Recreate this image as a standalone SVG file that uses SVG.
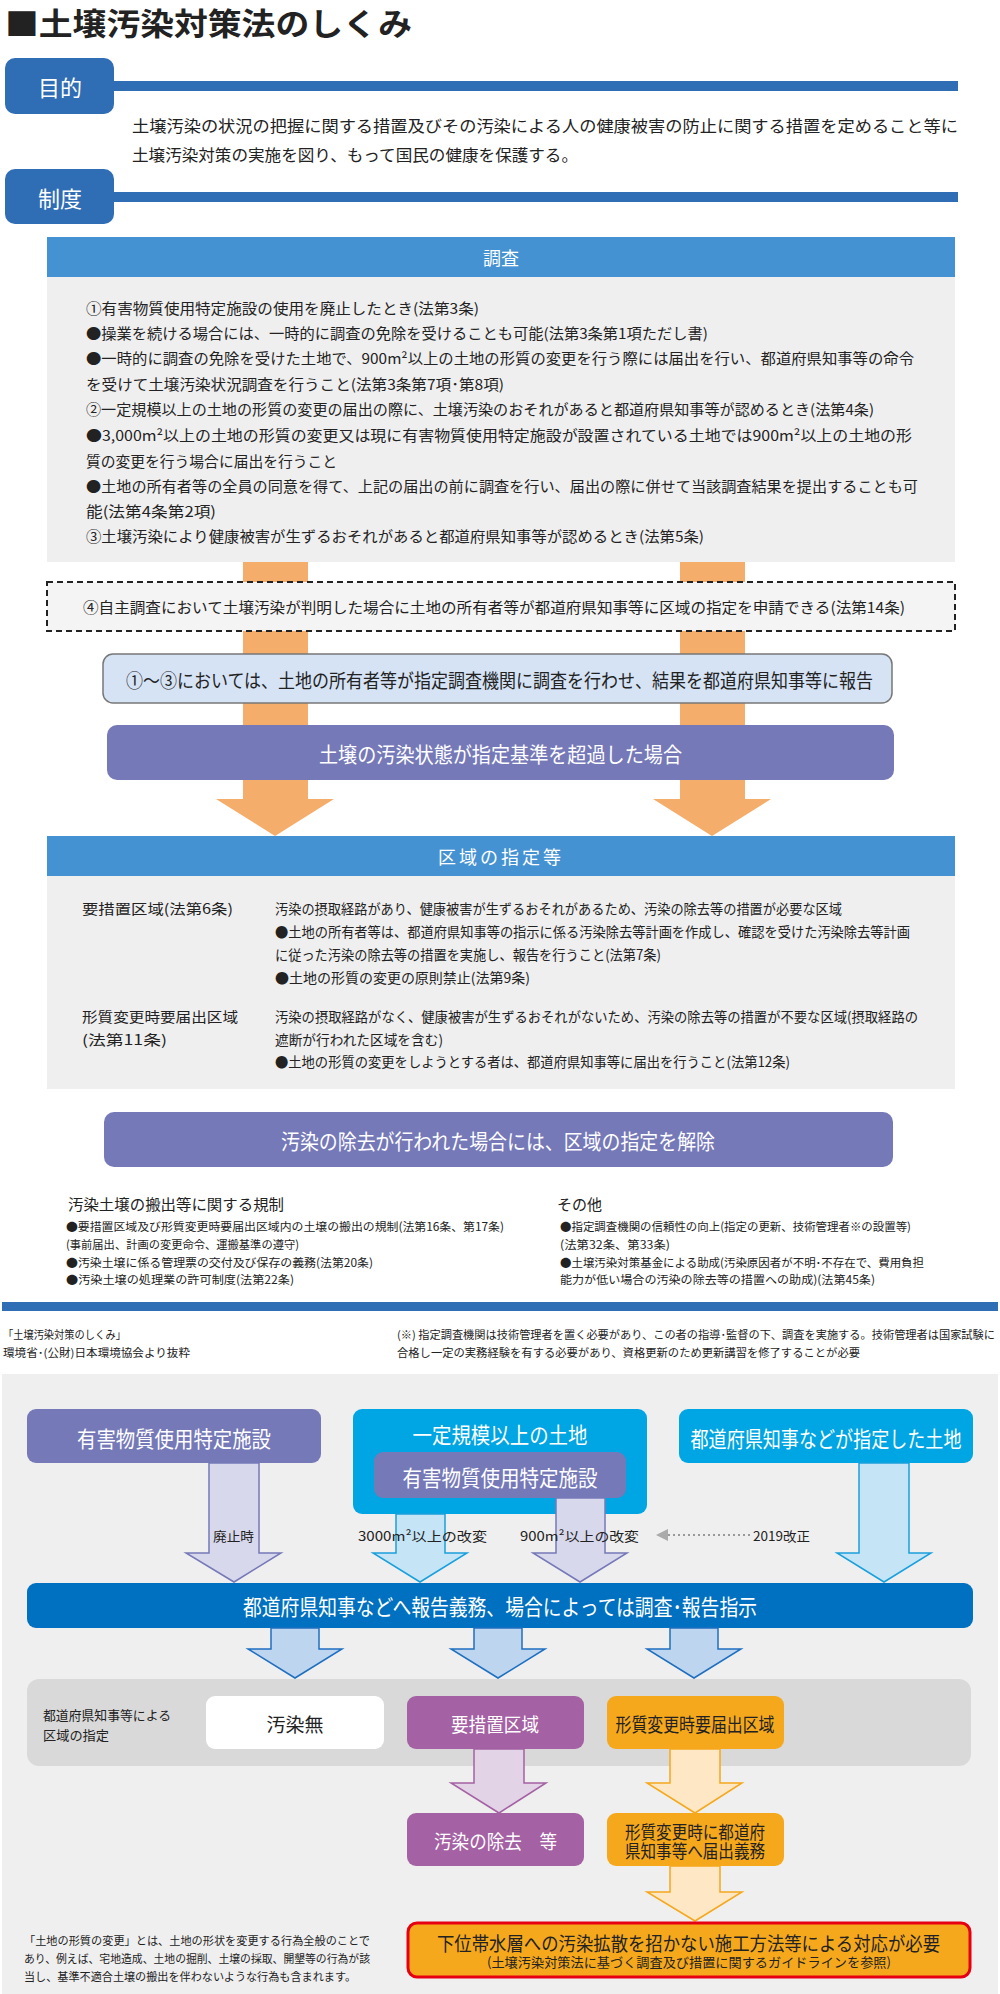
<svg xmlns="http://www.w3.org/2000/svg" width="1000" height="1994" viewBox="0 0 1000 1994">
<style>
text{font-family:"Noto Sans CJK JP","Noto Sans",sans-serif;dominant-baseline:central}
.k{fill:#222}
.w{fill:#fff}
.c{text-anchor:middle}
.tab{fill:#2f6db5}
.hdr{fill:#4592d3}
.gr{fill:#efefef}
.pu{fill:#7679b8}
.or{fill:#f5ad6b}
</style>
<rect width="1000" height="1994" fill="#fff"/>
<g id="title"><text x="5" y="21" font-size="31" font-weight="bold" class="k" textLength="407" lengthAdjust="spacingAndGlyphs">■土壌汚染対策法のしくみ</text></g>

<g id="purpose">
<rect x="5" y="58" width="109" height="56" rx="10" class="tab"/>
<rect x="110" y="81" width="848" height="10" class="tab"/>
<text x="60" y="86" font-size="22" class="w c">目的</text>
<text x="132" y="125" font-size="16" class="k" textLength="826" lengthAdjust="spacingAndGlyphs">土壌汚染の状況の把握に関する措置及びその汚染による人の健康被害の防止に関する措置を定めること等に</text>
<text x="132" y="154" font-size="16" class="k" textLength="446" lengthAdjust="spacingAndGlyphs">土壌汚染対策の実施を図り、もって国民の健康を保護する。</text>
</g>
<g id="system">
<rect x="5" y="169" width="109" height="55" rx="10" class="tab"/>
<rect x="110" y="192" width="848" height="10" class="tab"/>
<text x="60" y="197" font-size="22" class="w c">制度</text>
</g>

<g id="connectors">
<rect x="243" y="560" width="65" height="240" class="or"/>
<rect x="680" y="560" width="65" height="240" class="or"/>
<polygon points="216,799 334,799 275,836" class="or"/>
<polygon points="653,799 771,799 712,836" class="or"/>
</g>

<g id="survey">
<rect x="47" y="237" width="908" height="40" class="hdr"/>
<text x="501" y="257" font-size="18" class="w c">調査</text>
<rect x="47" y="277" width="908" height="285" class="gr"/>
<g font-size="14.5" class="k">
<text x="86" y="307" textLength="393" lengthAdjust="spacingAndGlyphs">①有害物質使用特定施設の使用を廃止したとき(法第3条)</text>
<text x="86" y="332" textLength="622" lengthAdjust="spacingAndGlyphs">●操業を続ける場合には、一時的に調査の免除を受けることも可能(法第3条第1項ただし書)</text>
<text x="86" y="357" textLength="828" lengthAdjust="spacingAndGlyphs">●一時的に調査の免除を受けた土地で、900m²以上の土地の形質の変更を行う際には届出を行い、都道府県知事等の命令</text>
<text x="86" y="383" textLength="418" lengthAdjust="spacingAndGlyphs">を受けて土壌汚染状況調査を行うこと(法第3条第7項･第8項)</text>
<text x="86" y="408" textLength="788" lengthAdjust="spacingAndGlyphs">②一定規模以上の土地の形質の変更の届出の際に、土壌汚染のおそれがあると都道府県知事等が認めるとき(法第4条)</text>
<text x="86" y="434" textLength="826" lengthAdjust="spacingAndGlyphs">●3,000m²以上の土地の形質の変更又は現に有害物質使用特定施設が設置されている土地では900m²以上の土地の形</text>
<text x="86" y="460" textLength="251" lengthAdjust="spacingAndGlyphs">質の変更を行う場合に届出を行うこと</text>
<text x="86" y="485" textLength="832" lengthAdjust="spacingAndGlyphs">●土地の所有者等の全員の同意を得て、上記の届出の前に調査を行い、届出の際に併せて当該調査結果を提出することも可</text>
<text x="86" y="510" textLength="130" lengthAdjust="spacingAndGlyphs">能(法第4条第2項)</text>
<text x="86" y="535" textLength="618" lengthAdjust="spacingAndGlyphs">③土壌汚染により健康被害が生ずるおそれがあると都道府県知事等が認めるとき(法第5条)</text>
</g>
</g>

<g id="self-survey">
<rect x="47" y="582" width="908" height="49" fill="#f4f4f4" stroke="#222" stroke-width="2" stroke-dasharray="6,4"/>
<text x="83" y="606" font-size="15" class="k" textLength="822" lengthAdjust="spacingAndGlyphs">④自主調査において土壌汚染が判明した場合に土地の所有者等が都道府県知事等に区域の指定を申請できる(法第14条)</text>
</g>
<g id="report">
<rect x="103" y="654" width="789" height="49" rx="10" fill="#d5e3f5" stroke="#777" stroke-width="1.5"/>
<text x="126" y="679" font-size="19" class="k" textLength="747" lengthAdjust="spacingAndGlyphs">①～③においては、土地の所有者等が指定調査機関に調査を行わせ、結果を都道府県知事等に報告</text>
</g>
<g id="exceed">
<rect x="107" y="725" width="787" height="55" rx="10" class="pu"/>
<text x="319" y="753" font-size="21" class="w" textLength="363" lengthAdjust="spacingAndGlyphs">土壌の汚染状態が指定基準を超過した場合</text>
</g>

<g id="designation">
<rect x="47" y="836" width="908" height="40" class="hdr"/>
<text x="501" y="856" font-size="18" class="w c" letter-spacing="3">区域の指定等</text>
<rect x="47" y="876" width="908" height="213" class="gr"/>
<g font-size="14" class="k">
<text x="82" y="908" textLength="151" lengthAdjust="spacingAndGlyphs">要措置区域(法第6条)</text>
<text x="275" y="908" textLength="567" lengthAdjust="spacingAndGlyphs">汚染の摂取経路があり、健康被害が生ずるおそれがあるため、汚染の除去等の措置が必要な区域</text>
<text x="275" y="931" textLength="635" lengthAdjust="spacingAndGlyphs">●土地の所有者等は、都道府県知事等の指示に係る汚染除去等計画を作成し、確認を受けた汚染除去等計画</text>
<text x="275" y="954" textLength="386" lengthAdjust="spacingAndGlyphs">に従った汚染の除去等の措置を実施し、報告を行うこと(法第7条)</text>
<text x="275" y="977" textLength="255" lengthAdjust="spacingAndGlyphs">●土地の形質の変更の原則禁止(法第9条)</text>
<text x="82" y="1016" textLength="156" lengthAdjust="spacingAndGlyphs">形質変更時要届出区域</text>
<text x="82" y="1039" textLength="85" lengthAdjust="spacingAndGlyphs">(法第11条)</text>
<text x="275" y="1016" textLength="643" lengthAdjust="spacingAndGlyphs">汚染の摂取経路がなく、健康被害が生ずるおそれがないため、汚染の除去等の措置が不要な区域(摂取経路の</text>
<text x="275" y="1039" textLength="168" lengthAdjust="spacingAndGlyphs">遮断が行われた区域を含む)</text>
<text x="275" y="1061" textLength="515" lengthAdjust="spacingAndGlyphs">●土地の形質の変更をしようとする者は、都道府県知事等に届出を行うこと(法第12条)</text>
</g>
</g>

<g id="release">
<rect x="104" y="1112" width="789" height="55" rx="10" class="pu"/>
<text x="281" y="1140" font-size="21" class="w" textLength="434" lengthAdjust="spacingAndGlyphs">汚染の除去が行われた場合には、区域の指定を解除</text>
</g>

<g id="others">
<text x="68" y="1203" font-size="15" class="k" textLength="216" lengthAdjust="spacingAndGlyphs">汚染土壌の搬出等に関する規制</text>
<g font-size="11.5" class="k">
<text x="66" y="1226" textLength="438" lengthAdjust="spacingAndGlyphs">●要措置区域及び形質変更時要届出区域内の土壌の搬出の規制(法第16条、第17条)</text>
<text x="66" y="1244" textLength="233" lengthAdjust="spacingAndGlyphs">(事前届出、計画の変更命令、運搬基準の遵守)</text>
<text x="66" y="1262" textLength="307" lengthAdjust="spacingAndGlyphs">●汚染土壌に係る管理票の交付及び保存の義務(法第20条)</text>
<text x="66" y="1279" textLength="228" lengthAdjust="spacingAndGlyphs">●汚染土壌の処理業の許可制度(法第22条)</text>
</g>
<text x="557" y="1203" font-size="15" class="k" textLength="45" lengthAdjust="spacingAndGlyphs">その他</text>
<g font-size="11.5" class="k">
<text x="560" y="1226" textLength="351" lengthAdjust="spacingAndGlyphs">●指定調査機関の信頼性の向上(指定の更新、技術管理者※の設置等)</text>
<text x="560" y="1244" textLength="110" lengthAdjust="spacingAndGlyphs">(法第32条、第33条)</text>
<text x="560" y="1262" textLength="364" lengthAdjust="spacingAndGlyphs">●土壌汚染対策基金による助成(汚染原因者が不明･不存在で、費用負担</text>
<text x="560" y="1279" textLength="315" lengthAdjust="spacingAndGlyphs">能力が低い場合の汚染の除去等の措置への助成)(法第45条)</text>
</g>
</g>

<g id="source">
<rect x="2" y="1302" width="996" height="9" class="tab"/>
<g font-size="11" class="k">
<text x="3" y="1334" textLength="123" lengthAdjust="spacingAndGlyphs">「土壌汚染対策のしくみ」</text>
<text x="3" y="1352" textLength="187" lengthAdjust="spacingAndGlyphs">環境省･(公財)日本環境協会より抜粋</text>
<text x="397" y="1334" textLength="598" lengthAdjust="spacingAndGlyphs">(※) 指定調査機関は技術管理者を置く必要があり、この者の指導･監督の下、調査を実施する。技術管理者は国家試験に</text>
<text x="397" y="1352" textLength="463" lengthAdjust="spacingAndGlyphs">合格し一定の実務経験を有する必要があり、資格更新のため更新講習を修了することが必要</text>
</g>
</g>

<rect x="2" y="1374" width="996" height="620" class="gr"/>

<g id="n-facility">
<rect x="27" y="1409" width="294" height="54" rx="9" class="pu"/>
<text x="174" y="1437" font-size="22" class="w c" textLength="194" lengthAdjust="spacingAndGlyphs">有害物質使用特定施設</text>
</g>
<g id="n-large">
<rect x="353" y="1409" width="294" height="105" rx="9" fill="#00a5e3"/>
<text x="500" y="1433" font-size="22" class="w c" textLength="175" lengthAdjust="spacingAndGlyphs">一定規模以上の土地</text>
<rect x="374" y="1452" width="252" height="46" rx="9" class="pu"/>
<text x="500" y="1476" font-size="22" class="w c" textLength="195" lengthAdjust="spacingAndGlyphs">有害物質使用特定施設</text>
</g>
<g id="n-designated">
<rect x="679" y="1409" width="294" height="54" rx="9" fill="#00a5e3"/>
<text x="826" y="1437" font-size="22" class="w c" textLength="271" lengthAdjust="spacingAndGlyphs">都道府県知事などが指定した土地</text>
</g>

<g id="flow-arrows">
<g fill="#d8d8ec" stroke="#7679b8" stroke-width="1.5">
<polygon points="209,1463 259,1463 259,1553 281,1553 234,1582 186,1553 209,1553"/>
<polygon points="556,1498 605,1498 605,1553 627,1553 580,1582 533,1553 556,1553"/>
</g>
<g fill="#c5e5f7" stroke="#1aa0dc" stroke-width="1.5">
<polygon points="396,1514 445,1514 445,1553 467,1553 420,1582 373,1553 396,1553"/>
<polygon points="859,1463 909,1463 909,1553 931,1553 884,1582 837,1553 859,1553"/>
</g>
<line x1="750" y1="1535" x2="664" y2="1535" stroke="#999" stroke-width="2" stroke-dasharray="2,3"/>
<polygon points="656,1535 668,1529 668,1541" fill="#aaa"/>
<g font-size="13" class="k">
<text x="213" y="1535" textLength="41" lengthAdjust="spacingAndGlyphs">廃止時</text>
<text x="358" y="1535" textLength="129" lengthAdjust="spacingAndGlyphs">3000m²以上の改変</text>
<text x="520" y="1535" textLength="119" lengthAdjust="spacingAndGlyphs">900m²以上の改変</text>
<text x="753" y="1535" textLength="57" lengthAdjust="spacingAndGlyphs">2019改正</text>
</g>
</g>

<g id="n-report">
<rect x="27" y="1583" width="946" height="45" rx="9" fill="#0070c0"/>
<text x="243" y="1605" font-size="22" class="w" textLength="514" lengthAdjust="spacingAndGlyphs">都道府県知事などへ報告義務、場合によっては調査･報告指示</text>
</g>
<g id="connectors-lower">
<g fill="#bdd5ee" stroke="#1f6fc0" stroke-width="1.5">
<polygon points="271,1628 319,1628 319,1649 342,1649 295,1678 248,1649 271,1649"/>
<polygon points="474,1628 522,1628 522,1649 545,1649 498,1678 451,1649 474,1649"/>
<polygon points="670,1628 718,1628 718,1649 741,1649 694,1678 647,1649 670,1649"/>
</g>
</g>

<g id="n-zone-panel">
<rect x="27" y="1679" width="944" height="87" rx="12" fill="#d9d9d9"/>
<text x="43" y="1714" font-size="13" class="k" textLength="128" lengthAdjust="spacingAndGlyphs">都道府県知事等による</text>
<text x="43" y="1734" font-size="13" class="k" textLength="66" lengthAdjust="spacingAndGlyphs">区域の指定</text>
</g>
<g id="n-none">
<rect x="206" y="1696" width="178" height="53" rx="9" fill="#fff"/>
<text x="295" y="1723" font-size="19" class="k c">汚染無</text>
</g>
<g id="n-action">
<rect x="407" y="1696" width="177" height="53" rx="9" fill="#a461a3"/>
<text x="495" y="1723" font-size="19" class="w c" textLength="88" lengthAdjust="spacingAndGlyphs">要措置区域</text>
</g>
<g id="n-notice">
<rect x="607" y="1696" width="177" height="53" rx="9" fill="#f5a81c"/>
<text x="695" y="1723" font-size="19" class="k c" textLength="159" lengthAdjust="spacingAndGlyphs">形質変更時要届出区域</text>
</g>

<g id="connectors-bottom">
<polygon points="474,1749 524,1749 524,1783 546,1783 499,1813 451,1783 474,1783" fill="#e2d3e7" stroke="#a461a3" stroke-width="1.5"/>
<polygon points="670,1749 720,1749 720,1783 742,1783 695,1813 647,1783 670,1783" fill="#fde7c4" stroke="#f5a81c" stroke-width="1.5"/>
<polygon points="670,1866 720,1866 720,1892 742,1892 695,1921 647,1892 670,1892" fill="#fde7c4" stroke="#f5a81c" stroke-width="1.5"/>
</g>

<g id="n-remove">
<rect x="407" y="1813" width="177" height="53" rx="9" fill="#a461a3"/>
<text x="434" y="1840" font-size="19" class="w" textLength="123" lengthAdjust="spacingAndGlyphs">汚染の除去　等</text>
</g>
<g id="n-notify">
<rect x="607" y="1813" width="177" height="53" rx="9" fill="#f5a81c"/>
<text x="695" y="1831" font-size="18" class="k c" textLength="140" lengthAdjust="spacingAndGlyphs">形質変更時に都道府</text>
<text x="695" y="1850" font-size="18" class="k c" textLength="140" lengthAdjust="spacingAndGlyphs">県知事等へ届出義務</text>
</g>
<g id="n-aquifer">
<rect x="408" y="1923" width="562" height="54" rx="9" fill="#f5a81c" stroke="#e60012" stroke-width="3"/>
<text x="437" y="1942" font-size="19" class="k" textLength="503" lengthAdjust="spacingAndGlyphs">下位帯水層への汚染拡散を招かない施工方法等による対応が必要</text>
<text x="487" y="1961" font-size="13" class="k" textLength="404" lengthAdjust="spacingAndGlyphs">(土壌汚染対策法に基づく調査及び措置に関するガイドラインを参照)</text>
</g>
<g id="note" font-size="11.5" class="k">
<text x="24" y="1940" textLength="346" lengthAdjust="spacingAndGlyphs">「土地の形質の変更」とは、土地の形状を変更する行為全般のことで</text>
<text x="24" y="1958" textLength="346" lengthAdjust="spacingAndGlyphs">あり、例えば、宅地造成、土地の掘削、土壌の採取、開墾等の行為が該</text>
<text x="24" y="1976" textLength="332" lengthAdjust="spacingAndGlyphs">当し、基準不適合土壌の搬出を伴わないような行為も含まれます。</text>
</g>
</svg>
